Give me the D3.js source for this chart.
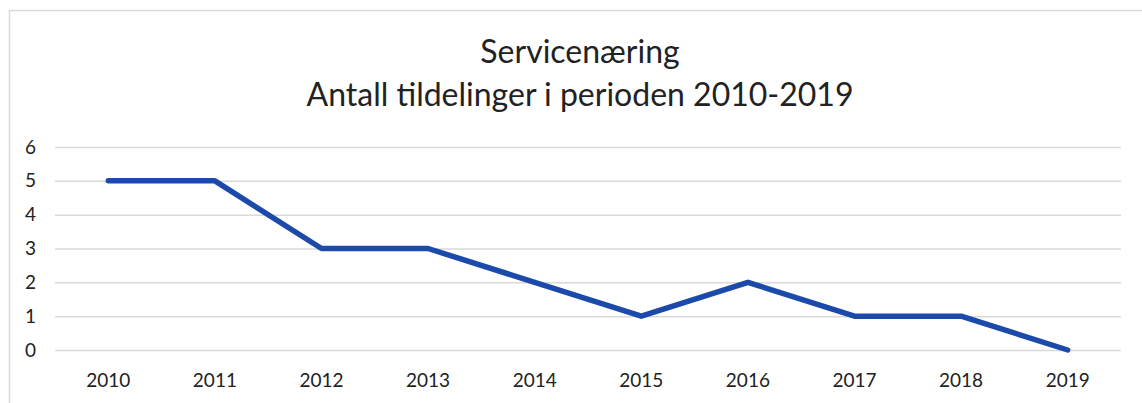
<!DOCTYPE html>
<html>
<head>
<meta charset="utf-8">
<script src="https://cdn.jsdelivr.net/npm/d3@7"></script>
<style>
  body { margin: 0; background: #fff; }
  svg { display: block; }
  text { font-family: Lato, "Open Sans", sans-serif; fill: #222; }
</style>
</head>
<body>
<div id="chart"></div>
<script>
// data
const years = ["2010", "2011", "2012", "2013", "2014", "2015", "2016", "2017", "2018", "2019"];
const counts = [5, 5, 3, 3, 2, 1, 2, 1, 1, 0];
const yTicks = [0, 1, 2, 3, 4, 5, 6];
const titleLines = ["Servicenæring", "Antall tildelinger i perioden 2010-2019"];

const width = 1142;
const height = 403;
const margin = { top: 147, bottom: 53, left: 55, right: 21 };
const innerWidth = width - margin.left - margin.right;
const innerHeight = height - margin.top - margin.bottom;

const data = years.map((y, i) => ({ year: y, value: counts[i] }));

const svg = d3.select("#chart")
  .append("svg")
  .attr("width", width)
  .attr("height", height);

// chart frame (only left and top edges are visible in the scan)
svg.append("path")
  .attr("d", `M9.5,${height} V10.5 H${width}`)
  .attr("fill", "none")
  .attr("stroke", "#d9d9d9")
  .attr("stroke-width", 1.5);

// title
svg.append("g")
  .selectAll("text")
  .data(titleLines)
  .join("text")
  .attr("x", 580)
  .attr("y", (d, i) => 63 + i * 43)
  .attr("text-anchor", "middle")
  .attr("font-size", 32)
  .text(d => d);

// scales
const xScale = d3.scaleBand()
  .domain(years)
  .range([0, innerWidth]);

const yScale = d3.scaleLinear()
  .domain([0, 6])
  .range([innerHeight, 0]);

const g = svg.append("g")
  .attr("transform", `translate(${margin.left},${margin.top})`);

// grid lines
g.append("g")
  .call(d3.axisLeft(yScale).tickValues(yTicks).tickSize(-innerWidth))
  .call(ax => {
    ax.select(".domain").remove();
    ax.selectAll("text").remove();
    ax.selectAll("line").attr("stroke", "#d9d9d9").attr("stroke-width", 1.5);
  });

// y labels
g.append("g")
  .selectAll("text")
  .data(yTicks)
  .join("text")
  .attr("x", -19)
  .attr("y", d => yScale(d))
  .attr("dy", "0.35em")
  .attr("text-anchor", "end")
  .attr("font-size", 19)
  .text(d => d);

// x labels
g.append("g")
  .selectAll("text")
  .data(years)
  .join("text")
  .attr("x", d => xScale(d) + xScale.bandwidth() / 2)
  .attr("y", innerHeight + 37)
  .attr("text-anchor", "middle")
  .attr("font-size", 19)
  .text(d => d);

// line
const line = d3.line()
  .x(d => xScale(d.year) + xScale.bandwidth() / 2)
  .y(d => yScale(d.value));

g.append("path")
  .datum(data)
  .attr("fill", "none")
  .attr("stroke", "#1c4aaa")
  .attr("stroke-width", 5.5)
  .attr("stroke-linejoin", "round")
  .attr("stroke-linecap", "round")
  .attr("d", line);
</script>
</body>
</html>
